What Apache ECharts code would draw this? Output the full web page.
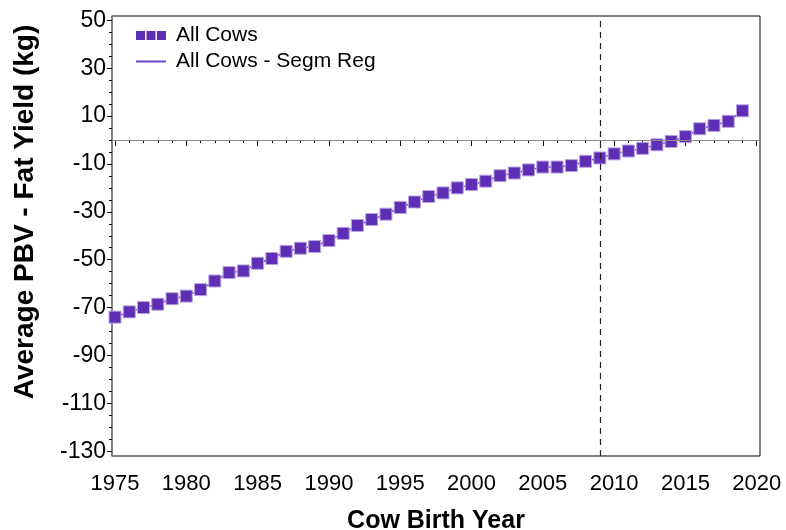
<!DOCTYPE html>
<html>
<head>
<meta charset="utf-8">
<script src="https://cdn.jsdelivr.net/npm/echarts@6/dist/echarts.min.js"></script>
<style>
    html, body { margin: 0; padding: 0; background: #fff; }
    #chart { width: 786px; height: 530px; }
</style>
</head>
<body>
<div id="chart"></div>
<script>
// birth years and average PBV fat yield (kg)
var years = [1975, 1976, 1977, 1978, 1979, 1980, 1981, 1982, 1983, 1984,
    1985, 1986, 1987, 1988, 1989, 1990, 1991, 1992, 1993, 1994,
    1995, 1996, 1997, 1998, 1999, 2000, 2001, 2002, 2003, 2004,
    2005, 2006, 2007, 2008, 2009, 2010, 2011, 2012, 2013, 2014,
    2015, 2016, 2017, 2018, 2019];
var allCows = [-74.0, -71.8, -70.0, -68.6, -66.3, -65.2, -62.5, -58.9, -55.4, -54.7,
    -51.5, -49.5, -46.5, -45.2, -44.5, -42.0, -39.0, -35.7, -33.2, -31.0,
    -28.2, -25.9, -23.6, -22.1, -20.0, -18.6, -17.2, -14.9, -13.8, -12.5,
    -11.3, -11.3, -10.7, -8.9, -7.5, -5.8, -4.6, -3.5, -2.0, -0.6,
    1.4, 4.7, 6.1, 7.8, 12.2];
// segmented regression, follows the markers closely
var segmReg = allCows;
var xTicks = [1975, 1980, 1985, 1990, 1995, 2000, 2005, 2010, 2015, 2020];
var yTicks = [-130, -110, -90, -70, -50, -30, -10, 10, 30, 50];
var breakYear = 2009;

var xMinor = [];
for (var i = 1975; i <= 2020; i++) {
    xMinor.push(i);
}
var yMinor = [];
for (var v = -130; v <= 50; v += 5) {
    yMinor.push(v);
}

function pairs(xs, ys) {
    var out = [];
    for (var k = 0; k < xs.length; k++) {
        out.push([xs[k], ys[k]]);
    }
    return out;
}

var FONT = 'Liberation Sans';
var markerColor = '#5e2fb4';
var X_MIN = 1974.79, X_MAX = 2020.23;
var Y_MIN = -132, Y_MAX = 51.8;

var myChart = echarts.init(document.getElementById('chart'));
var option = {
    animation: false,
    backgroundColor: '#fff',
    textStyle: { fontFamily: FONT },
    grid: {
        left: 112, right: 26, top: 16, bottom: 74,
        outerBoundsMode: 'none',
        show: true, borderColor: '#000', borderWidth: 1
    },
    legend: {
        orient: 'vertical',
        left: 130, top: 20,
        itemWidth: 30, itemHeight: 10, itemGap: 5,
        textStyle: { fontFamily: FONT, fontSize: 21, color: '#000', padding: [0, 0, 0, 5] },
        data: [
            {
                name: 'All Cows',
                icon: 'path://M0,0H9V9H0Z M10.5,0H19.5V9H10.5Z M21,0H30V9H21Z',
                itemStyle: { borderWidth: 0, color: markerColor }
            },
            { name: 'All Cows - Segm Reg', itemStyle: { opacity: 0 } }
        ]
    },
    xAxis: [{
        type: 'value', min: X_MIN, max: X_MAX, offset: 2,
        name: 'Cow Birth Year', nameLocation: 'middle', nameGap: 51,
        nameTextStyle: { fontFamily: FONT, fontSize: 25, fontWeight: 'bold', color: '#000' },
        axisLine: { show: false },
        splitLine: { show: false },
        axisTick: { customValues: xTicks, length: 6, lineStyle: { color: '#000' } },
        axisLabel: {
            customValues: xTicks, fontSize: 22, color: '#000', margin: 15,
            formatter: function (val) { return String(Math.round(val)); }
        }
    }, {
        type: 'value', min: X_MIN, max: X_MAX, offset: 2, position: 'bottom',
        axisLine: { show: false },
        splitLine: { show: false },
        axisTick: { customValues: xMinor, length: 3, lineStyle: { color: '#000' } },
        axisLabel: { show: false }
    }],
    yAxis: [{
        type: 'value', min: Y_MIN, max: Y_MAX,
        name: 'Average PBV - Fat Yield (kg)', nameLocation: 'middle', nameGap: 73,
        nameTextStyle: {
            fontFamily: FONT, fontSize: 28, fontWeight: 'bold', color: '#000',
            padding: [0, 0, 0, 48]
        },
        axisLine: { show: true, lineStyle: { color: '#808080', width: 1.6 } },
        splitLine: { show: false },
        axisTick: { customValues: yTicks, length: 5, lineStyle: { color: '#000' } },
        axisLabel: {
            customValues: yTicks, fontSize: 23, color: '#000', margin: 6,
            formatter: function (val) { return String(Math.round(val)); }
        }
    }, {
        type: 'value', min: Y_MIN, max: Y_MAX, position: 'left',
        axisLine: { show: false },
        splitLine: { show: false },
        axisTick: { customValues: yMinor, length: 3, lineStyle: { color: '#000' } },
        axisLabel: { show: false }
    }],
    series: [{
        name: 'All Cows - Segm Reg',
        type: 'line',
        data: pairs(years, segmReg),
        symbol: 'none',
        lineStyle: { color: '#7048c8', width: 1.5 },
        itemStyle: { color: '#8d68d6' },
        markLine: {
            silent: true,
            symbol: 'none',
            label: { show: false },
            data: [
                { yAxis: 0, lineStyle: { color: '#8a8a8a', width: 1.2, type: 'solid' } },
                { xAxis: breakYear, lineStyle: { color: '#222', width: 1.2, type: [6, 5] } }
            ]
        },
        z: 2
    }, {
        name: 'All Cows',
        type: 'scatter',
        data: pairs(years, allCows),
        symbol: 'rect',
        symbolSize: 12,
        itemStyle: { color: markerColor, borderColor: '#b8a2e2', borderWidth: 1, opacity: 1 },
        z: 3
    }]
};
myChart.setOption(option);
</script>
</body>
</html>
